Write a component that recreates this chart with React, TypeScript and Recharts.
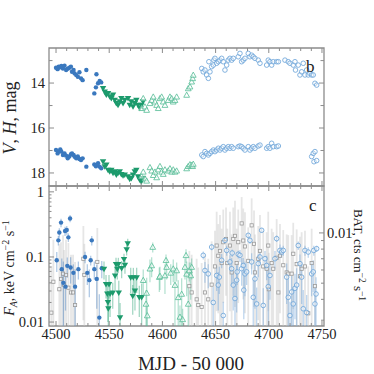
import React from "react";
import { ScatterChart, Scatter, XAxis, YAxis, ErrorBar, ReferenceArea } from "recharts";

// ---- axes ----
const X_DOMAIN = [4493.4, 4751.9];
const MAG_DOMAIN = [12.44, 18.58];
const FLUX_DOMAIN = [0.0087, 1.23];
const BAT_DOMAIN = [0.00277, 0.0191];

const X_TICKS = [
  4500, 4510, 4520, 4530, 4540, 4550, 4560, 4570, 4580, 4590, 4600, 4610, 4620, 4630, 4640,
  4650, 4660, 4670, 4680, 4690, 4700, 4710, 4720, 4730, 4740, 4750,
];
const X_LABELS = [4500, 4550, 4600, 4650, 4700, 4750];
const MAG_TICKS = [13, 14, 15, 16, 17, 18];
const MAG_LABELS = [14, 16, 18];
const FLUX_TICKS = [
  0.01, 0.02, 0.03, 0.04, 0.05, 0.06, 0.07, 0.08, 0.09,
  0.1, 0.2, 0.3, 0.4, 0.5, 0.6, 0.7, 0.8, 0.9, 1,
];
const FLUX_LABELS = [0.01, 0.1, 1];
const BAT_TICKS = [0.003, 0.004, 0.005, 0.006, 0.007, 0.008, 0.009, 0.01];
const BAT_LABELS = [0.01];

// ---- panel b: optical / IR magnitudes ----
const OPT1_MJD = [4500, 4501.5, 4502.5, 4504, 4505, 4506.5, 4508, 4509.5, 4511, 4512.5, 4514, 4515, 4516.5, 4517.5, 4519, 4520.5, 4522, 4523.5, 4525, 4528.5, 4536, 4537.5, 4538, 4539.5, 4541, 4542.5];
const OPT1_H = [13.32, 13.38, 13.27, 13.3, 13.24, 13.35, 13.23, 13.42, 13.36, 13.32, 13.27, 13.5, 13.42, 13.57, 13.64, 13.72, 13.52, 13.79, 13.87, 13.42, 14.46, 14.19, 13.61, 14.01, 13.91, 13.97];
const OPT1_V = [16.98, 17.13, 17.05, 16.95, 17.05, 17.2, 17.13, 17.23, 17.35, 17.27, 17.17, 17.13, 17.2, 17.28, 17.35, 17.27, 17.38, 17.42, 17.35, 17.72, 17.62, 17.7, 17.64, 17.57, 17.72, 17.79];

const OPT2_MJD = [4544.2, 4545.8, 4547.3, 4548.9, 4550.5, 4552, 4553.6, 4555.2, 4556.7, 4558.3, 4559.9, 4561.4, 4563, 4564.6, 4567.7, 4569.3, 4570.8, 4572.4, 4574, 4575.5, 4577.1, 4578.7, 4580.2, 4581.8];
const OPT2_H = [14.24, 14.39, 14.53, 14.46, 14.61, 14.68, 14.53, 14.76, 14.9, 14.98, 14.83, 14.68, 14.9, 14.76, 14.68, 14.98, 14.83, 15.05, 14.9, 14.76, 14.98, 15.12, 14.98, 14.83];
const OPT2_V = [17.5, 17.72, 17.64, 17.87, 17.94, 17.87, 18.01, 17.94, 18.09, 18.01, 17.94, 18.06, 18.12, 18.09, 18.16, 18.27, 18.24, 18.09, 17.94, 17.87, 18.16, 18.31, 18.39, 18.24];

const OPT3_MJD = [4580.5, 4582, 4583.6, 4585.2, 4588.3, 4589.9, 4591.4, 4593, 4594.6, 4596.1, 4597.7, 4599.3, 4600.8, 4602.4, 4605.5, 4607.1, 4608.7, 4610.2, 4611.8, 4613.4, 4622.8, 4624.3, 4625.9, 4627.5, 4628.4, 4629];
const OPT3_H = [15.12, 14.68, 15.05, 15.2, 14.9, 14.76, 14.61, 14.83, 14.98, 15.12, 14.68, 14.61, 14.83, 14.98, 14.76, 14.61, 14.68, 14.83, 14.76, 14.61, 14.53, 14.24, 14.16, 13.94, 13.79, 13.64];
const OPT3_V = [18.15, 17.95, 18.25, 18.35, 17.75, 17.9, 18.1, 17.95, 18.2, 17.85, 17.7, 17.95, 18.05, 17.85, 17.9, 17.8, 17.95, 17.85, 17.95, 17.9, 17.8, 17.7, 17.62, 17.65, 17.7, 17.6];

const OPT4H_MJD = [4637, 4638.4, 4640, 4641.6, 4643.2, 4643.7, 4644.7, 4646.3, 4647.9, 4648.4, 4649.4, 4651, 4652.6, 4654.1, 4655.7, 4657.2, 4658.8, 4660.4, 4661.9, 4663.5, 4665.1, 4666.6, 4671.3, 4672.9, 4674.5, 4676, 4677.6, 4680.7, 4682.3, 4683.9, 4685.4, 4687, 4690.1, 4691.7, 4698, 4699.5, 4701.1, 4702.7, 4704.2, 4707.4, 4709, 4715.2, 4718.3, 4719.9, 4723, 4724.6, 4725.1, 4727.7, 4729.3, 4730.9, 4732.4, 4734, 4735.6, 4737.1, 4738.7, 4740.3, 4741.8, 4743.4, 4745];
const OPT4_H = [13.35, 13.5, 13.42, 13.64, 13.79, 13.05, 13.5, 13.27, 13.2, 12.98, 12.9, 13.12, 13.05, 12.98, 12.9, 13.05, 13.42, 13.2, 12.98, 12.9, 12.98, 12.9, 12.83, 12.68, 13.05, 12.98, 12.9, 12.68, 12.83, 12.76, 12.83, 12.9, 12.98, 13.12, 13.2, 12.98, 13.05, 13.2, 13.05, 13.05, 13.05, 12.98, 13.05, 13.12, 13.2, 13.05, 13.42, 13.2, 13.64, 13.5, 13.12, 13.64, 13.42, 13.64, 13.57, 13.64, 13.64, 14.01, 14.09];
const OPT4V_MJD = [4637, 4638.4, 4640, 4641.6, 4643.2, 4644.7, 4646.3, 4647.9, 4649.4, 4651, 4652.6, 4654.1, 4655.7, 4657.2, 4658.8, 4660.4, 4661.9, 4663.5, 4665.1, 4666.6, 4671.3, 4672.9, 4674.5, 4676, 4677.6, 4680.7, 4682.3, 4683.9, 4685.4, 4687, 4690.1, 4691.7, 4698, 4699.5, 4701.1, 4702.7, 4704.2, 4707.4, 4709, 4740.3, 4741.8, 4743.4, 4742.5, 4745];
const OPT4_V = [17.2, 17.27, 17.05, 17.13, 17.2, 17.13, 17.05, 16.98, 17.05, 16.98, 16.9, 16.98, 16.9, 16.83, 16.98, 16.9, 16.83, 16.9, 16.83, 16.9, 16.83, 16.8, 16.83, 16.9, 16.98, 16.83, 16.98, 16.9, 16.83, 16.9, 16.8, 16.76, 16.9, 16.83, 16.9, 16.68, 16.83, 16.83, 16.8, 17.27, 17.13, 17.05, 17.5, 17.45];

// ---- panel c: X-ray flux (keV cm-2 s-1) and BAT rate ----
const XR1_MJD = [4500.7, 4502.2, 4503.1, 4504.7, 4505.4, 4506.9, 4508.5, 4508.9, 4510.1, 4510.6, 4511.6, 4513.2, 4513.7, 4516.3, 4517.9, 4521, 4527.3, 4529.4, 4531.3, 4532.6, 4533.6, 4536, 4538.3, 4540.7, 4543];
const XR1_FLUX = [0.089, 0.18, 0.237, 0.337, 0.065, 0.04, 0.25, 0.035, 0.26, 0.073, 0.2, 0.39, 0.069, 0.057, 0.035, 0.065, 0.1, 0.057, 0.044, 0.089, 0.18, 0.065, 0.046, 0.0117, 0.067];
const XR1_ERR = [0.03, 0.03, 0.04, 0.05, 0.03, 0.045, 0.04, 0.02, 0.04, 0.025, 0.03, 0.05, 0.03, 0.02, 0.03, 0.02, 0.02, 0.02, 0.02, 0.015, 0.03, 0.02, 0.03, 0.015, 0.02];

const XR2_MJD = [4545.1, 4547, 4548.2, 4548.8, 4549.2, 4549.8, 4550.8, 4553.3, 4555.5, 4556.4, 4557.6, 4558.6, 4559, 4560.2, 4561.7, 4563.9, 4564.8, 4566.4, 4567.4, 4570.2, 4572.1, 4572.7, 4574.2, 4575.8, 4578.3, 4580.5];
const XR2_FLUX = [0.065, 0.038, 0.027, 0.02, 0.016, 0.038, 0.027, 0.028, 0.051, 0.077, 0.065, 0.077, 0.028, 0.0117, 0.067, 0.092, 0.075, 0.13, 0.16, 0.048, 0.025, 0.048, 0.03, 0.048, 0.024, 0.024];
const XR2_ERR = [0.02, 0.015, 0.012, 0.01, 0.012, 0.015, 0.015, 0.012, 0.02, 0.02, 0.02, 0.02, 0.015, 0.008, 0.02, 0.02, 0.02, 0.025, 0.03, 0.02, 0.012, 0.02, 0.015, 0.02, 0.012, 0.015];

const XR3_MJD = [4582, 4584.6, 4585.2, 4585.8, 4588.3, 4589.9, 4590.9, 4597.1, 4597.7, 4602.4, 4603.4, 4604, 4607.8, 4610.2, 4611.8, 4613.4, 4614.9, 4616.5, 4618.1, 4619, 4621.2, 4622.2, 4622.8, 4624.3, 4625.3, 4626.6, 4627.5];
const XR3_FLUX = [0.044, 0.019, 0.028, 0.0126, 0.066, 0.074, 0.142, 0.049, 0.051, 0.052, 0.089, 0.07, 0.057, 0.066, 0.037, 0.062, 0.024, 0.012, 0.027, 0.011, 0.07, 0.106, 0.055, 0.019, 0.062, 0.052, 0.07];
const XR3_ERR = [0.02, 0.012, 0.02, 0.006, 0.025, 0.025, 0.025, 0.02, 0.02, 0.025, 0.02, 0.025, 0.02, 0.025, 0.03, 0.02, 0.02, 0.006, 0.02, 0.005, 0.025, 0.025, 0.03, 0.015, 0.02, 0.03, 0.025];

const XR4_MJD = [4638.4, 4640, 4643.1, 4646.3, 4647.8, 4651, 4652.5, 4653.5, 4655.7, 4657.2, 4658.8, 4660.4, 4663.5, 4665.1, 4665.6, 4666.6, 4668.2, 4669.8, 4670.3, 4671.3, 4672.9, 4674.5, 4676, 4676.5, 4677.6, 4679.2, 4680.7, 4682.3, 4683.9, 4685.4, 4687, 4688.6, 4690.1, 4691.7, 4693.3, 4694.8, 4696.4, 4698, 4699.5, 4701.1, 4705.8, 4707.4, 4710.5, 4712.1, 4713.6, 4716.8, 4718.3, 4719.9, 4721.5, 4723, 4724.6, 4726.2, 4727.7, 4729.3, 4730.9, 4732.4, 4734, 4735.6, 4737.1, 4740.3, 4741.8, 4742.3, 4743.4, 4744.4, 4745];
const XR4_FLUX = [0.106, 0.062, 0.055, 0.142, 0.02, 0.052, 0.037, 0.049, 0.089, 0.0126, 0.18, 0.126, 0.084, 0.066, 0.115, 0.037, 0.023, 0.044, 0.059, 0.11, 0.106, 0.066, 0.074, 0.031, 0.055, 0.059, 0.215, 0.18, 0.084, 0.024, 0.046, 0.019, 0.079, 0.1, 0.257, 0.018, 0.094, 0.074, 0.035, 0.052, 0.094, 0.191, 0.126, 0.119, 0.126, 0.049, 0.024, 0.0126, 0.029, 0.019, 0.033, 0.037, 0.15, 0.079, 0.049, 0.016, 0.126, 0.014, 0.119, 0.055, 0.059, 0.126, 0.019, 0.027, 0.134];
const XR4_ERR = [0.015, 0.022, 0.022, 0.015, 0.015, 0.022, 0.022, 0.022, 0.022, 0.008, 0.02, 0.022, 0.022, 0.03, 0.015, 0.022, 0.02, 0.03, 0.022, 0.015, 0.022, 0.03, 0.022, 0.02, 0.03, 0.022, 0.015, 0.022, 0.03, 0.02, 0.03, 0.015, 0.03, 0.022, 0.022, 0.015, 0.03, 0.03, 0.03, 0.03, 0.03, 0.022, 0.03, 0.022, 0.022, 0.03, 0.022, 0.008, 0.022, 0.015, 0.022, 0.03, 0.022, 0.03, 0.03, 0.015, 0.022, 0.012, 0.022, 0.03, 0.03, 0.022, 0.015, 0.022, 0.015];

const BAT_MJD = [4495.6, 4497.5, 4503.1, 4504.7, 4506.6, 4507.5, 4509.4, 4511.6, 4514.1, 4516, 4517.9, 4525.7, 4526.6, 4538.8, 4625.3, 4627.5, 4632.2, 4633.7, 4636.9, 4640, 4643.1, 4646.3, 4649.4, 4651, 4652.5, 4654.1, 4655.7, 4657.2, 4659.8, 4661, 4663.5, 4665.1, 4666.6, 4668.2, 4669.8, 4671.3, 4674.5, 4676, 4677.6, 4680.7, 4683.9, 4686.1, 4687, 4690.1, 4691.7, 4694.8, 4698, 4699.5, 4700, 4702.7, 4704.2, 4707.4, 4709, 4710.5, 4713.6, 4716.8, 4718.3, 4721.5, 4723, 4726.2, 4729.3, 4730.9, 4734, 4737.1, 4740.3, 4743.4];
const BAT_RATE = [0.00333, 0.0051, 0.0046, 0.0053, 0.0057, 0.0049, 0.0056, 0.0047, 0.0044, 0.0044, 0.0037, 0.007, 0.0056, 0.0067, 0.0048, 0.0044, 0.004, 0.0037, 0.0036, 0.0044, 0.004, 0.0049, 0.0063, 0.0084, 0.0073, 0.0078, 0.0066, 0.0088, 0.0092, 0.0066, 0.0084, 0.0058, 0.0092, 0.0096, 0.0066, 0.0088, 0.0114, 0.009, 0.0083, 0.0068, 0.0111, 0.0086, 0.0058, 0.007, 0.0078, 0.0063, 0.0061, 0.0084, 0.0046, 0.0066, 0.0061, 0.0071, 0.0044, 0.0073, 0.0064, 0.0058, 0.0057, 0.0057, 0.0075, 0.0065, 0.0055, 0.0061, 0.0063, 0.0033, 0.0066, 0.0048];
const BAT_ERR = [0.003, 0.004, 0.004, 0.0035, 0.004, 0.003, 0.0035, 0.004, 0.003, 0.003, 0.003, 0.004, 0.003, 0.004, 0.003, 0.003, 0.003, 0.0025, 0.003, 0.003, 0.003, 0.004, 0.004, 0.005, 0.004, 0.005, 0.004, 0.005, 0.005, 0.004, 0.005, 0.004, 0.005, 0.006, 0.004, 0.005, 0.005, 0.005, 0.005, 0.004, 0.005, 0.005, 0.004, 0.004, 0.005, 0.004, 0.004, 0.005, 0.003, 0.004, 0.004, 0.005, 0.003, 0.004, 0.004, 0.004, 0.004, 0.004, 0.004, 0.004, 0.004, 0.004, 0.004, 0.003, 0.004, 0.003];

// ---- styling ----
const FONT = "'Liberation Serif', 'DejaVu Serif', serif";
const FRAME = "#8c8c8c";
const BLUE = "#3a78be";
const GREEN = "#1c9a6c";
const LGREEN = "#5dbf9b";
const LBLUE = "#6ea5d9";
const GREY = "#9a9a9a";

const PLOT_W = 275;
const TOP_H = 138;
const BOT_H = 140;

const optRows = (mjd: number[], mag: number[]) => mjd.map((m, i) => ({ x: m, y: mag[i] }));
// lower error is clipped at the bottom of the axis, as a log plot does
const errRows = (mjd: number[], val: number[], sig: number[], floor: number) =>
  mjd.map((m, i) => ({ x: m, y: val[i], err: [Math.min(sig[i], val[i] - floor * 1.001), sig[i]] }));

const dot = (fill: string) => (p: any) => <circle cx={p.cx} cy={p.cy} r={2.2} fill={fill} />;
const downTri = (fill: string) => (p: any) => (
  <path d={`M${p.cx - 3.2},${p.cy - 2.4}L${p.cx + 3.2},${p.cy - 2.4}L${p.cx},${p.cy + 3.1}Z`} fill={fill} />
);
const upTri = (stroke: string) => (p: any) => (
  <path
    d={`M${p.cx - 2.9},${p.cy + 2.3}L${p.cx + 2.9},${p.cy + 2.3}L${p.cx},${p.cy - 2.9}Z`}
    fill="rgba(255,255,255,0.5)" stroke={stroke} strokeWidth={0.85}
  />
);
const ring = (stroke: string) => (p: any) => (
  <circle cx={p.cx} cy={p.cy} r={2.3} fill="rgba(255,255,255,0.4)" stroke={stroke} strokeWidth={0.85} />
);
const square = (stroke: string) => (p: any) => (
  <rect x={p.cx - 1.6} y={p.cy - 1.6} width={3.2} height={3.2} fill="rgba(255,255,255,0.6)" stroke={stroke} strokeWidth={0.8} />
);

const labelStyle = { fontFamily: FONT, fontSize: 14.5, fill: "#222" };

const xTick = (plotH: number, labels: boolean) => (p: any) => {
  const v = p.payload.value;
  const major = X_LABELS.includes(v);
  const len = major ? 5 : 3;
  return (
    <g>
      <line x1={p.x} x2={p.x} y1={p.y} y2={p.y - len} stroke={FRAME} />
      <line x1={p.x} x2={p.x} y1={p.y - plotH} y2={p.y - plotH + len} stroke={FRAME} />
      {labels && major ? (
        <text x={p.x} y={p.y + 13} textAnchor="middle" {...labelStyle}>{v}</text>
      ) : null}
    </g>
  );
};

const magTick = (p: any) => {
  const v = p.payload.value;
  const major = MAG_LABELS.includes(v);
  const len = major ? 5 : 3.5;
  return (
    <g>
      <line x1={p.x} x2={p.x + len} y1={p.y} y2={p.y} stroke={FRAME} />
      <line x1={p.x + PLOT_W} x2={p.x + PLOT_W - len} y1={p.y} y2={p.y} stroke={FRAME} />
      {major ? <text x={p.x - 4} y={p.y + 5} textAnchor="end" {...labelStyle}>{v}</text> : null}
    </g>
  );
};

const fluxTick = (p: any) => {
  const v = p.payload.value;
  const major = FLUX_LABELS.includes(v);
  const len = major ? 5 : 2.5;
  return (
    <g>
      <line x1={p.x} x2={p.x + len} y1={p.y} y2={p.y} stroke={FRAME} />
      {major ? <text x={p.x - 5} y={p.y + 5} textAnchor="end" {...labelStyle}>{v}</text> : null}
    </g>
  );
};

const batTick = (p: any) => {
  const v = p.payload.value;
  const major = BAT_LABELS.includes(v);
  const len = major ? 5 : 3;
  return (
    <g>
      <line x1={p.x} x2={p.x - len} y1={p.y} y2={p.y} stroke={FRAME} />
      {major ? <text x={p.x + 3} y={p.y + 5} textAnchor="start" {...labelStyle}>{v}</text> : null}
    </g>
  );
};

function TopPanel() {
  return (
    <ScatterChart width={374} height={216} margin={{ top: 48, right: 50, bottom: 0, left: 0 }}>
      <XAxis type="number" dataKey="x" domain={X_DOMAIN} allowDataOverflow ticks={X_TICKS} interval={0}
        tickSize={0} tickMargin={0} axisLine={false} tickLine={false} height={30} tick={xTick(TOP_H, false)} />
      <YAxis type="number" dataKey="y" domain={MAG_DOMAIN} reversed allowDataOverflow ticks={MAG_TICKS} interval={0}
        width={49} tickSize={0} tickMargin={0} axisLine={false} tickLine={false} tick={magTick} />
      <ReferenceArea x1={X_DOMAIN[0]} x2={X_DOMAIN[1]} y1={MAG_DOMAIN[0]} y2={MAG_DOMAIN[1]}
        fill="none" stroke={FRAME} strokeWidth={1.3} fillOpacity={0} />
      <Scatter data={optRows(OPT1_MJD, OPT1_H)} shape={dot(BLUE)} isAnimationActive={false} />
      <Scatter data={optRows(OPT1_MJD, OPT1_V)} shape={dot(BLUE)} isAnimationActive={false} />
      <Scatter data={optRows(OPT2_MJD, OPT2_H)} shape={downTri(GREEN)} isAnimationActive={false} />
      <Scatter data={optRows(OPT2_MJD, OPT2_V)} shape={downTri(GREEN)} isAnimationActive={false} />
      <Scatter data={optRows(OPT3_MJD, OPT3_H)} shape={upTri(LGREEN)} isAnimationActive={false} />
      <Scatter data={optRows(OPT3_MJD, OPT3_V)} shape={upTri(LGREEN)} isAnimationActive={false} />
      <Scatter data={optRows(OPT4H_MJD, OPT4_H)} shape={ring(LBLUE)} isAnimationActive={false} />
      <Scatter data={optRows(OPT4V_MJD, OPT4_V)} shape={ring(LBLUE)} isAnimationActive={false} />
    </ScatterChart>
  );
}

function BottomPanel() {
  const fMin = FLUX_DOMAIN[0];
  return (
    <ScatterChart width={374} height={374} margin={{ top: 186, right: 0, bottom: 0, left: 0 }}>
      <XAxis type="number" dataKey="x" domain={X_DOMAIN} allowDataOverflow ticks={X_TICKS} interval={0}
        tickSize={0} tickMargin={0} axisLine={false} tickLine={false} height={48} tick={xTick(BOT_H, true)} />
      <YAxis yAxisId="flux" type="number" dataKey="y" scale="log" domain={FLUX_DOMAIN} allowDataOverflow
        ticks={FLUX_TICKS} interval={0} width={49} tickSize={0} tickMargin={0} axisLine={false} tickLine={false}
        tick={fluxTick} />
      <YAxis yAxisId="bat" orientation="right" type="number" dataKey="y" scale="log" domain={BAT_DOMAIN}
        allowDataOverflow ticks={BAT_TICKS} interval={0} width={50} tickSize={0} tickMargin={0}
        axisLine={false} tickLine={false} tick={batTick} />
      <ReferenceArea yAxisId="flux" x1={X_DOMAIN[0]} x2={X_DOMAIN[1]} y1={FLUX_DOMAIN[0]} y2={FLUX_DOMAIN[1]}
        fill="none" stroke={FRAME} strokeWidth={1.3} fillOpacity={0} />
      <Scatter yAxisId="bat" data={errRows(BAT_MJD, BAT_RATE, BAT_ERR, BAT_DOMAIN[0])} shape={square(GREY)}
        isAnimationActive={false}>
        <ErrorBar dataKey="err" direction="y" width={0} stroke="rgba(200,200,200,0.45)" strokeWidth={1.8} />
      </Scatter>
      <Scatter yAxisId="flux" data={errRows(XR1_MJD, XR1_FLUX, XR1_ERR, fMin)} shape={dot(BLUE)} isAnimationActive={false}>
        <ErrorBar dataKey="err" direction="y" width={0} stroke="rgba(58,120,190,0.4)" strokeWidth={1.3} />
      </Scatter>
      <Scatter yAxisId="flux" data={errRows(XR2_MJD, XR2_FLUX, XR2_ERR, fMin)} shape={downTri(GREEN)} isAnimationActive={false}>
        <ErrorBar dataKey="err" direction="y" width={0} stroke="rgba(28,154,108,0.4)" strokeWidth={1.3} />
      </Scatter>
      <Scatter yAxisId="flux" data={errRows(XR3_MJD, XR3_FLUX, XR3_ERR, fMin)} shape={upTri(LGREEN)} isAnimationActive={false}>
        <ErrorBar dataKey="err" direction="y" width={0} stroke="rgba(93,191,155,0.45)" strokeWidth={1.3} />
      </Scatter>
      <Scatter yAxisId="flux" data={errRows(XR4_MJD, XR4_FLUX, XR4_ERR, fMin)} shape={ring(LBLUE)} isAnimationActive={false}>
        <ErrorBar dataKey="err" direction="y" width={0} stroke="rgba(110,165,217,0.45)" strokeWidth={1.3} />
      </Scatter>
    </ScatterChart>
  );
}

function Titles() {
  const t = { fontFamily: FONT, fill: "#222" };
  return (
    <svg width={374} height={374} style={{ position: "absolute", left: 0, top: 0, pointerEvents: "none" }}>
      <text transform="translate(16,118) rotate(-90)" textAnchor="middle" fontSize={18} {...t}>
        <tspan fontStyle="italic">V</tspan>, <tspan fontStyle="italic">H</tspan>, mag
      </text>
      <text transform="translate(14,268) rotate(-90)" textAnchor="middle" fontSize={14} {...t}>
        <tspan fontStyle="italic">F</tspan>
        <tspan fontStyle="italic" fontSize={10} dy={3}>A</tspan>
        <tspan dy={-3}>, keV cm</tspan>
        <tspan fontSize={10} dy={-5}>−2</tspan>
        <tspan dy={5}> s</tspan>
        <tspan fontSize={10} dy={-5}>−1</tspan>
      </text>
      <text transform="translate(354,255) rotate(90)" textAnchor="middle" fontSize={13} {...t}>
        BAT, cts cm<tspan fontSize={9.5} dy={-5}>−2</tspan>
        <tspan dy={5}> s</tspan>
        <tspan fontSize={9.5} dy={-5}>−1</tspan>
      </text>
      <text x={191} y={370} textAnchor="middle" fontSize={19} {...t}>MJD - 50 000</text>
      <text x={306} y={72} fontSize={17} {...t}>b</text>
      <text x={309} y={211} fontSize={17} {...t}>c</text>
    </svg>
  );
}

export default function App() {
  return (
    <div style={{ position: "absolute", left: 0, top: 0, width: 374, height: 374, background: "#fff" }}>
      <div style={{ position: "absolute", left: 0, top: 0 }}>
        <TopPanel />
      </div>
      <div style={{ position: "absolute", left: 0, top: 0 }}>
        <BottomPanel />
      </div>
      <Titles />
    </div>
  );
}
